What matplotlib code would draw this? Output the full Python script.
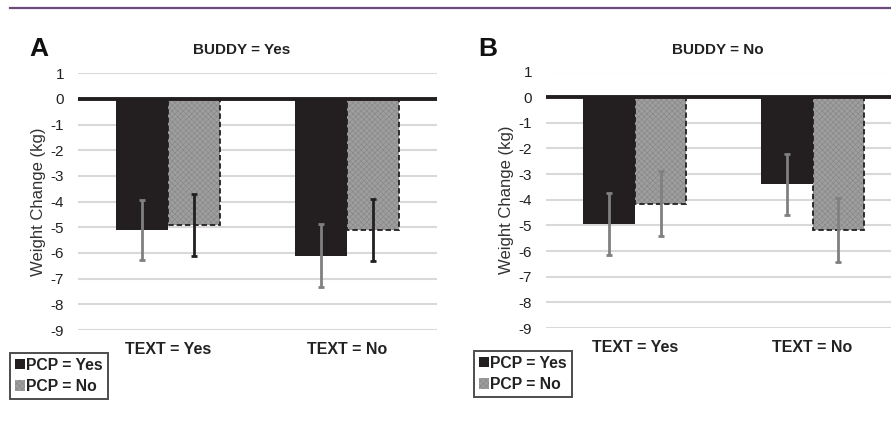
import numpy as np
import matplotlib
matplotlib.use("Agg")
import matplotlib.pyplot as plt
from matplotlib.lines import Line2D
from matplotlib.patches import Patch

plt.rcParams['font.family'] = ['Liberation Sans', 'DejaVu Sans']
plt.rcParams['hatch.linewidth'] = 0.4

# ============================
#  Dane
# ============================

text_cats = ["TEXT = Yes", "TEXT = No"]
panel_titles = ["BUDDY = Yes", "BUDDY = No"]
panel_letters = ["A", "B"]
y_ticks = [1, 0, -1, -2, -3, -4, -5, -6, -7, -8, -9]

# BUDDY = Yes
a_pcp_yes = [-5.1, -6.1]
a_pcp_yes_err = [1.16, 1.23]
a_pcp_no = [-4.9, -5.1]
a_pcp_no_err = [1.2, 1.2]

# BUDDY = No
b_pcp_yes = [-4.95, -3.4]
b_pcp_yes_err = [1.2, 1.19]
b_pcp_no = [-4.15, -5.18]
b_pcp_no_err = [1.28, 1.25]

# ============================
#  Styl
# ============================

BLACK = "#231f20"
GRAY_ERR = "#808080"
GRAY_BAR = "#9e9e9e"
GRAY_HATCH = "#858585"
GRID = "#d9d9d9"
W = 0.29

fig = plt.figure(figsize=(8.91, 4.29), dpi=100)

# fioletowa linia na gorze
fig.add_artist(Line2D([10/891, 1.0], [1 - 7.5/429, 1 - 7.5/429],
                      transform=fig.transFigure, color="#6b4b7b", lw=1.6))


def panel(rect, yes_vals, yes_err, no_vals, no_err, yes_ecol, no_ecol,
          title, title_x, letter, letter_x, legend_xy):
    ax = fig.add_axes(rect)
    x = np.arange(len(text_cats))

    ax.bar(x - W/2, yes_vals, W, color=BLACK, lw=0, zorder=3)
    ax.bar(x + W/2, no_vals, W, color=GRAY_BAR, edgecolor=GRAY_HATCH,
           hatch="xxxxxx", lw=0, zorder=3)
    ax.bar(x + W/2, no_vals, W, fill=False, edgecolor=BLACK,
           ls=(0, (3, 1.6)), lw=1.3, zorder=4)

    ax.errorbar(x - W/2, yes_vals, yerr=yes_err, fmt="none", ecolor=yes_ecol,
                elinewidth=2, capsize=2.5, capthick=2, zorder=5)
    ax.errorbar(x + W/2, no_vals, yerr=no_err, fmt="none", ecolor=no_ecol,
                elinewidth=2, capsize=2.5, capthick=2, zorder=5)

    ax.axhline(0, color=BLACK, lw=2.8, zorder=6)

    ax.set_xlim(-0.5, 1.5)
    ax.set_ylim(-9, 1)
    ax.set_yticks(y_ticks)
    ax.set_yticklabels([str(t) for t in y_ticks])
    ax.set_xticks(x)
    ax.set_xticklabels(text_cats, fontweight="bold", fontsize=11.5)
    ax.tick_params(axis="y", length=0, pad=10, labelsize=11, colors="#222222")
    ax.tick_params(axis="x", length=0, pad=9, colors="#222222")
    ax.yaxis.grid(True, color=GRID, lw=1.5, zorder=0)
    ax.set_axisbelow(True)
    for s in ax.spines.values():
        s.set_visible(False)
    ax.set_ylabel("Weight Change (kg)", fontsize=12, labelpad=3, color="#333333")

    fig.text(title_x, 1 - 50/429, title, ha="center", va="center",
             fontsize=11, fontweight="bold", color="#222222")
    fig.text(letter_x, 1 - 49/429, letter, ha="left", va="center",
             fontsize=19, fontweight="bold", color="#111111")

    handles = [Patch(facecolor=BLACK, lw=0),
               Patch(facecolor=GRAY_BAR, edgecolor=GRAY_HATCH, hatch="xxxxxx", lw=0)]
    leg = fig.legend(handles, ["PCP = Yes", "PCP = No"], loc="upper left",
                     bbox_to_anchor=legend_xy, bbox_transform=fig.transFigure,
                     frameon=True, fancybox=False, edgecolor=BLACK,
                     handlelength=0.65, handleheight=0.65, handletextpad=0.1,
                     borderpad=0.3, borderaxespad=0, labelspacing=0.4,
                     prop={"weight": "bold", "size": 11.3})
    leg.get_frame().set_linewidth(1.4)
    for t in leg.get_texts():
        t.set_color("#222222")
    return ax


panel([78/891, 1 - 330/429, 359/891, 256.7/429],
      a_pcp_yes, a_pcp_yes_err, a_pcp_no, a_pcp_no_err, GRAY_ERR, BLACK,
      panel_titles[0], 242/891, panel_letters[0], 29/891, (10/891, 1 - 353/429))

panel([546/891, 1 - 328/429, 355.5/891, 256.5/429],
      b_pcp_yes, b_pcp_yes_err, b_pcp_no, b_pcp_no_err, GRAY_ERR, GRAY_ERR,
      panel_titles[1], 718/891, panel_letters[1], 478/891, (474/891, 1 - 351/429))

fig.savefig("out.png", dpi=100)
